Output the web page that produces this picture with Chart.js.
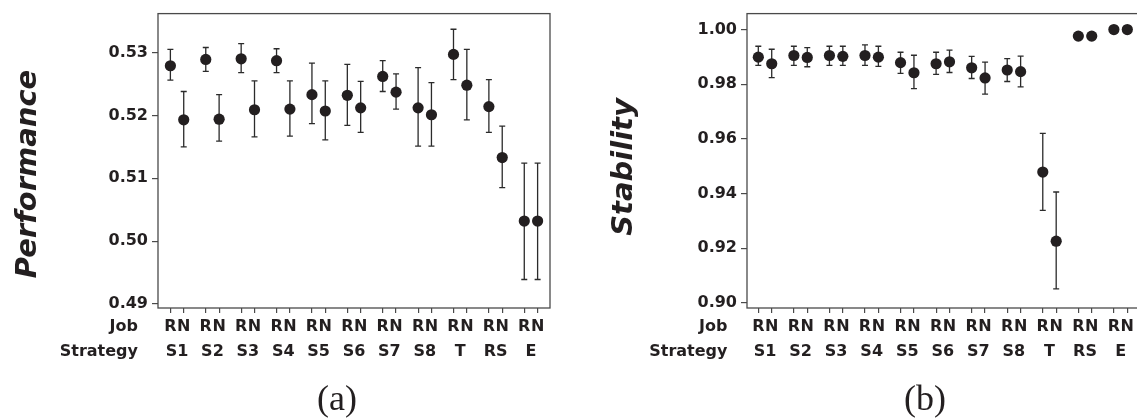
<!DOCTYPE html>
<html>
<head>
<meta charset="utf-8">
<script src="https://cdn.jsdelivr.net/npm/chart.js@4.4.1/dist/chart.umd.min.js"></script>
<style>
  html, body { margin: 0; padding: 0; background: #fff; overflow: hidden; width: 1137px; height: 419px; }
  .panel { position: absolute; top: 0; height: 419px; }
  #pa { left: 0; width: 568px; }
  #pb { left: 568px; width: 585px; }
</style>
</head>
<body>
<div class="panel" id="pa"><canvas id="ca"></canvas></div>
<div class="panel" id="pb"><canvas id="cb"></canvas></div>
<script>
// Categories: each strategy is run for job types R and N
const strategies = ['S1', 'S2', 'S3', 'S4', 'S5', 'S6', 'S7', 'S8', 'T', 'RS', 'E'];
const jobs = ['R', 'N'];

// Performance: mean and interval bounds, ordered S1-R, S1-N, S2-R, ...
const perfMean = [0.5279, 0.5193, 0.5289, 0.5194, 0.5290, 0.5209, 0.5287, 0.5210, 0.5233, 0.5207,
                  0.5232, 0.5212, 0.5262, 0.5237, 0.5212, 0.5201, 0.5297, 0.5248, 0.5214, 0.5133,
                  0.5032, 0.5032];
const perfLow  = [0.5256, 0.5150, 0.5270, 0.5159, 0.5268, 0.5166, 0.5268, 0.5167, 0.5187, 0.5161,
                  0.5184, 0.5173, 0.5238, 0.5210, 0.5151, 0.5151, 0.5257, 0.5193, 0.5173, 0.5085,
                  0.4939, 0.4939];
const perfHigh = [0.5305, 0.5238, 0.5308, 0.5233, 0.5314, 0.5255, 0.5306, 0.5255, 0.5283, 0.5255,
                  0.5281, 0.5254, 0.5287, 0.5266, 0.5276, 0.5252, 0.5337, 0.5305, 0.5257, 0.5183,
                  0.5124, 0.5124];

// Stability: mean and interval bounds (RS and E have no visible spread)
const stabMean = [0.9899, 0.9875, 0.9905, 0.9898, 0.9905, 0.9902, 0.9905, 0.9899, 0.9879, 0.9842,
                  0.9875, 0.9882, 0.9860, 0.9823, 0.9852, 0.9846, 0.9479, 0.9226, 0.9976, 0.9976,
                  1.0000, 1.0000];
const stabLow  = [0.9869, 0.9824, 0.9869, 0.9864, 0.9869, 0.9869, 0.9869, 0.9865, 0.9840, 0.9784,
                  0.9836, 0.9843, 0.9821, 0.9764, 0.9810, 0.9790, 0.9339, 0.9052, null, null,
                  null, null];
const stabHigh = [0.9939, 0.9928, 0.9939, 0.9934, 0.9939, 0.9939, 0.9944, 0.9939, 0.9917, 0.9906,
                  0.9917, 0.9925, 0.9902, 0.9881, 0.9894, 0.9903, 0.9620, 0.9406, null, null,
                  null, null];

// Tick values and labels of the value axes
const perfTicks = [0.49, 0.50, 0.51, 0.52, 0.53];
const perfTickLabels = ['0.49', '0.50', '0.51', '0.52', '0.53'];
const stabTicks = [0.90, 0.92, 0.94, 0.96, 0.98, 1.00];
const stabTickLabels = ['0.90', '0.92', '0.94', '0.96', '0.98', '1.00'];

// Layout constants
const JOB_GAP = 0.377;          // offset of the N job from the R job within a strategy group
const INK = '#231f20';
const FRAME = '#4a4a4a';
const LABEL_FONT = { family: '"DejaVu Sans", Verdana, sans-serif', size: 16, weight: 'bold' };
const LINE_H = 1.2;

function xOf(i) { return Math.floor(i / 2) + (i % 2) * JOB_GAP; }

// Error bars behind the markers, frame around the plot, row titles, axis title and caption
const decorations = {
  id: 'decorations',
  beforeDatasetsDraw(chart, args, opts) {
    const ctx = chart.ctx;
    const xs = chart.scales.x, ys = chart.scales.y;
    ctx.save();
    ctx.strokeStyle = '#2b2b2b';
    ctx.lineWidth = 1.3;
    opts.low.forEach((lo, i) => {
      const hi = opts.high[i];
      if (lo == null || hi == null) return;
      const px = xs.getPixelForValue(xOf(i));
      const y1 = ys.getPixelForValue(lo), y2 = ys.getPixelForValue(hi);
      ctx.beginPath();
      ctx.moveTo(px, y1); ctx.lineTo(px, y2);
      ctx.moveTo(px - 3, y1); ctx.lineTo(px + 3, y1);
      ctx.moveTo(px - 3, y2); ctx.lineTo(px + 3, y2);
      ctx.stroke();
    });
    ctx.restore();
  },
  afterDraw(chart, args, opts) {
    const ctx = chart.ctx;
    const a = chart.chartArea;
    const xs = chart.scales.x, x2 = chart.scales.x2;
    ctx.save();
    ctx.strokeStyle = FRAME;
    ctx.lineWidth = 1.3;
    ctx.strokeRect(a.left, a.top, a.right - a.left, a.bottom - a.top);

    ctx.fillStyle = INK;
    ctx.font = 'bold 16px "DejaVu Sans", Verdana, sans-serif';
    ctx.textAlign = 'right';
    ctx.textBaseline = 'middle';
    const lh = LABEL_FONT.size * LINE_H;
    const yJob = xs.top + xs.options.grid.tickLength + xs.options.ticks.padding + lh / 2;
    const yStr = x2.top + x2.options.ticks.padding + lh / 2;
    ctx.fillText('Job', opts.rowRight, yJob);
    ctx.fillText('Strategy', opts.rowRight, yStr);

    ctx.save();
    ctx.translate(opts.titleX, opts.titleY);
    ctx.rotate(-Math.PI / 2);
    ctx.textAlign = 'center';
    ctx.font = 'italic bold 29px "DejaVu Sans", Verdana, sans-serif';
    ctx.fillText(opts.title, 0, 0);
    ctx.restore();

    ctx.textAlign = 'center';
    ctx.textBaseline = 'alphabetic';
    ctx.font = '36px "Liberation Serif", "Times New Roman", serif';
    ctx.fillText(opts.caption, opts.captionX, opts.captionY);
    ctx.restore();
  }
};

function makePanel(canvasId, p) {
  const points = p.mean.map((v, i) => ({ x: xOf(i), y: v }));
  const jobPos = p.mean.map((v, i) => xOf(i));
  const groupPos = strategies.map((s, g) => g + JOB_GAP / 2);
  return new Chart(document.getElementById(canvasId), {
    type: 'scatter',
    data: {
      datasets: [{
        data: points,
        pointRadius: 5.6,
        pointHoverRadius: 5.6,
        pointBackgroundColor: INK,
        pointBorderWidth: 0,
        showLine: false
      }]
    },
    plugins: [decorations],
    options: {
      responsive: true,
      maintainAspectRatio: false,
      animation: false,
      devicePixelRatio: 1,
      layout: { padding: { left: 0, right: p.padRight, top: 13, bottom: 51 } },
      plugins: {
        legend: { display: false },
        tooltip: { enabled: false },
        title: { display: false },
        decorations: {
          low: p.low, high: p.high, title: p.title,
          titleX: p.titleX, titleY: p.titleY,
          rowRight: p.rowRight,
          caption: p.caption, captionX: p.captionX, captionY: 410
        }
      },
      scales: {
        x: {
          type: 'linear', position: 'bottom',
          min: p.xMin, max: p.xMax,
          afterBuildTicks: s => { s.ticks = jobPos.map(v => ({ value: v })); },
          afterFit: s => { s.height = 30; },
          border: { display: false },
          grid: { display: true, drawOnChartArea: false, drawTicks: true, tickLength: 5, color: FRAME, lineWidth: 1.2 },
          ticks: {
            autoSkip: false, maxRotation: 0, minRotation: 0, padding: 4,
            color: INK, font: LABEL_FONT,
            callback: (v, i) => jobs[i % 2]
          }
        },
        x2: {
          type: 'linear', position: 'bottom',
          min: p.xMin, max: p.xMax,
          afterBuildTicks: s => { s.ticks = groupPos.map(v => ({ value: v })); },
          afterFit: s => { s.height = 30; },
          border: { display: false },
          grid: { display: false, drawTicks: false },
          ticks: {
            autoSkip: false, maxRotation: 0, minRotation: 0, padding: 4,
            color: INK, font: LABEL_FONT,
            callback: (v, i) => strategies[i]
          }
        },
        y: {
          type: 'linear', position: 'left',
          min: p.yMin, max: p.yMax,
          afterBuildTicks: s => { s.ticks = p.ticks.map(v => ({ value: v })); },
          afterFit: s => { s.width = p.yWidth; },
          border: { display: false },
          grid: { display: true, drawOnChartArea: false, drawTicks: true, tickLength: 6, color: FRAME, lineWidth: 1.2 },
          ticks: {
            padding: 4, color: INK, font: LABEL_FONT,
            callback: (v, i) => p.tickLabels[i]
          }
        }
      }
    }
  });
}

makePanel('ca', {
  mean: perfMean, low: perfLow, high: perfHigh,
  ticks: perfTicks, tickLabels: perfTickLabels,
  yMin: 0.48937, yMax: 0.53619,
  xMin: -0.35, xMax: 10.377 + 0.35,
  yWidth: 158, padRight: 18,
  title: 'Performance', titleX: 28, titleY: 174,
  rowRight: 138,
  caption: '(a)', captionX: 337
});

makePanel('cb', {
  mean: stabMean, low: stabLow, high: stabHigh,
  ticks: stabTicks, tickLabels: stabTickLabels,
  yMin: 0.89818, yMax: 1.00583,
  xMin: -0.318, xMax: 10.377 + 0.343,
  yWidth: 179, padRight: 13.5,
  title: 'Stability', titleX: 56, titleY: 167,
  rowRight: 159.5,
  caption: '(b)', captionX: 357
});
</script>
</body>
</html>
